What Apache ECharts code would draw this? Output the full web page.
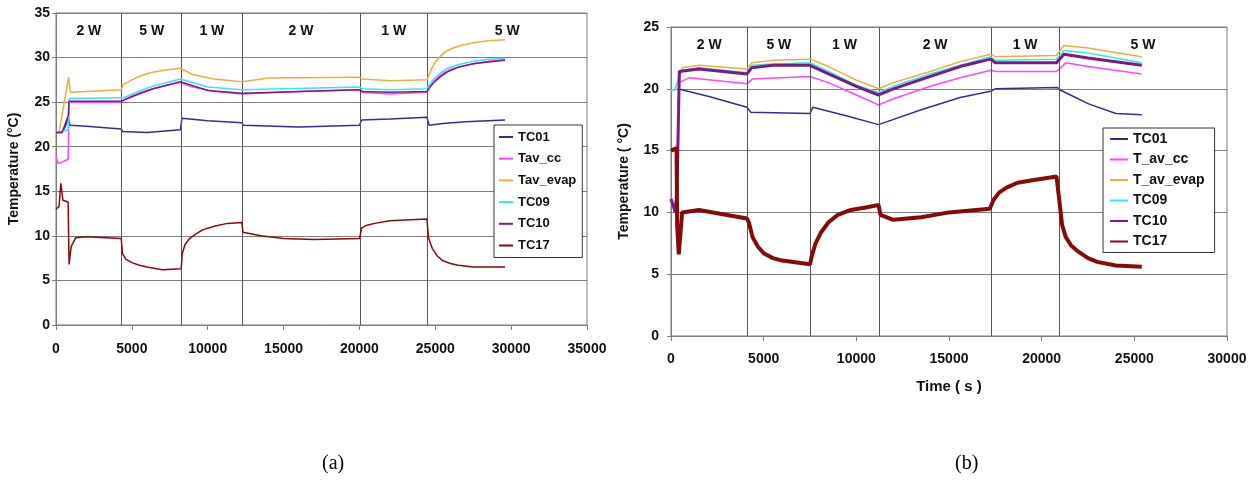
<!DOCTYPE html>
<html>
<head>
<meta charset="utf-8">
<script src="https://cdn.jsdelivr.net/npm/echarts@6/dist/echarts.min.js"></script>
<style>
html,body{margin:0;padding:0;background:#fff;}
#c{width:1257px;height:483px;}
</style>
</head>
<body>
<div id="c"></div>
<script>
// ---------- Chart (a) ----------
const aNames = ['TC01', 'Tav_cc', 'Tav_evap', 'TC09', 'TC10', 'TC17'];
const aTC01_t = [0, 380, 600, 810, 920, 2000, 4300, 4400, 6000, 8200, 8300, 10000, 12250, 12350, 16000, 20000, 20150, 22000, 24450, 24600, 25500, 27000, 29600];
const aTC01_v = [21.6, 21.6, 22.2, 23.2, 22.4, 22.3, 22.0, 21.7, 21.6, 21.9, 23.2, 22.9, 22.7, 22.4, 22.2, 22.4, 23.0, 23.1, 23.3, 22.4, 22.6, 22.8, 23.0];
const aTavcc_t = [0, 150, 800, 860, 2000, 4300, 4500, 5000, 5600, 6400, 7300, 8200, 9000, 10500, 12250, 12350, 16000, 20000, 20200, 22000, 24450, 24700, 25000, 25400, 25900, 26600, 27500, 28500, 29600];
const aTavcc_v = [18.9, 18.1, 18.6, 25.0, 25.0, 25.0, 25.3, 25.7, 26.1, 26.5, 26.9, 27.2, 26.7, 26.2, 25.9, 26.1, 26.2, 26.4, 26.1, 25.9, 26.1, 26.8, 27.5, 28.1, 28.6, 29.0, 29.3, 29.6, 29.8];
const aTavev_t = [0, 200, 830, 950, 2000, 4300, 4450, 5000, 5500, 6200, 7200, 8200, 9000, 10400, 12250, 12350, 14000, 20000, 20200, 22000, 24450, 24600, 24800, 25000, 25300, 25700, 26200, 26800, 27600, 28500, 29600];
const aTavev_v = [21.6, 21.6, 27.8, 26.1, 26.2, 26.4, 27.0, 27.5, 27.9, 28.3, 28.6, 28.8, 28.1, 27.6, 27.3, 27.5, 27.7, 27.8, 27.6, 27.4, 27.5, 28.1, 28.9, 29.5, 30.1, 30.7, 31.1, 31.4, 31.7, 31.9, 32.0];
const aTC09_t = [0, 800, 870, 4300, 4450, 5000, 5600, 6400, 7300, 8200, 10000, 12250, 12350, 20000, 20200, 22000, 24450, 24600, 24900, 25300, 25800, 26500, 27500, 28500, 29600];
const aTC09_v = [21.6, 21.9, 25.4, 25.5, 25.5, 25.9, 26.3, 26.8, 27.2, 27.6, 26.7, 26.4, 26.6, 26.7, 26.5, 26.4, 26.5, 26.9, 27.6, 28.2, 28.8, 29.2, 29.6, 29.8, 29.9];
const aTC10_t = [0, 400, 810, 860, 4300, 4450, 5000, 5600, 6400, 7300, 8200, 10000, 12250, 12350, 20000, 20200, 22000, 24450, 24600, 24900, 25300, 25800, 26500, 27500, 28500, 29600];
const aTC10_v = [21.6, 21.6, 23.5, 25.1, 25.1, 25.2, 25.6, 26.0, 26.5, 26.9, 27.3, 26.3, 26.0, 26.2, 26.4, 26.2, 26.1, 26.2, 26.6, 27.2, 27.8, 28.4, 28.9, 29.3, 29.5, 29.7];
const aTC17_t = [0, 200, 320, 450, 800, 860, 1000, 1300, 2000, 4300, 4380, 4600, 5000, 5500, 6000, 7000, 8250, 8320, 8500, 8800, 9200, 9700, 10500, 11300, 12250, 12320, 13500, 15000, 17000, 20000, 20150, 20500, 21000, 22000, 24450, 24550, 24800, 25100, 25500, 26000, 26500, 27500, 29600];
const aTC17_v = [13.0, 13.3, 15.9, 14.0, 13.8, 6.8, 8.8, 9.8, 9.9, 9.7, 8.0, 7.4, 7.0, 6.7, 6.5, 6.2, 6.3, 8.0, 9.0, 9.7, 10.2, 10.7, 11.1, 11.4, 11.5, 10.4, 10.0, 9.7, 9.6, 9.7, 10.9, 11.2, 11.4, 11.7, 11.9, 9.8, 8.6, 7.8, 7.2, 6.9, 6.7, 6.5, 6.5];
const aBounds = [0, 4330, 8280, 12270, 20030, 24490, 35000];
const aPowers = ['2 W', '5 W', '1 W', '2 W', '1 W', '5 W'];
const aXTicks = [0, 35000, 5000];
const aYTicks = [0, 35, 5];

// ---------- Chart (b) ----------
const bNames = ['TC01', 'T_av_cc', 'T_av_evap', 'TC09', 'TC10', 'TC17'];
const bTC01_t = [350, 2000, 4100, 4300, 7500, 7650, 9500, 11200, 13500, 15600, 17250, 17500, 20850, 21000, 22500, 24000, 25400];
const bTC01_v = [20.0, 19.4, 18.5, 18.1, 18.0, 18.5, 17.8, 17.1, 18.3, 19.3, 19.8, 20.0, 20.1, 19.9, 18.8, 18.0, 17.9];
const bTavcc_t = [300, 420, 1000, 4100, 4400, 7500, 8500, 10000, 11200, 12000, 14000, 15600, 17250, 17500, 20800, 21300, 22500, 25400];
const bTavcc_v = [12.0, 20.5, 20.9, 20.4, 20.8, 21.0, 20.5, 19.5, 18.7, 19.2, 20.2, 20.9, 21.5, 21.4, 21.4, 22.1, 21.8, 21.2];
const bTavev_t = [0, 200, 600, 1500, 4100, 4350, 5500, 7500, 8500, 10000, 11200, 12000, 14000, 15600, 17250, 17500, 20800, 21200, 22500, 25400];
const bTavev_v = [19.9, 19.9, 21.7, 21.9, 21.6, 22.1, 22.3, 22.4, 21.8, 20.7, 20.0, 20.5, 21.4, 22.2, 22.8, 22.6, 22.7, 23.5, 23.3, 22.6];
const bTC09_t = [0, 200, 600, 1500, 4100, 4350, 5500, 7500, 8500, 10000, 11200, 12000, 14000, 15600, 17250, 17500, 20800, 21200, 22500, 25400];
const bTC09_v = [19.9, 19.9, 21.5, 21.7, 21.3, 21.9, 22.0, 22.1, 21.4, 20.3, 19.7, 20.2, 21.2, 21.9, 22.6, 22.3, 22.4, 23.1, 22.9, 22.1];
const bTC10_t = [0, 230, 330, 450, 1500, 4100, 4350, 5500, 7500, 8500, 10000, 11200, 12000, 14000, 15600, 17250, 17500, 20800, 21200, 22500, 25400];
const bTC10_v = [11.1, 10.0, 12.0, 21.4, 21.6, 21.2, 21.7, 21.9, 21.9, 21.2, 20.2, 19.5, 20.0, 21.0, 21.8, 22.4, 22.1, 22.1, 22.8, 22.5, 21.9];
const bTC17_t = [0, 300, 330, 420, 600, 1500, 4100, 4200, 4400, 4700, 5000, 5500, 6000, 7500, 7600, 7800, 8100, 8500, 9000, 9700, 10500, 11200, 11300, 12000, 13500, 15000, 17200, 17400, 17700, 18100, 18700, 19500, 20800, 20950, 21100, 21300, 21600, 22000, 22500, 23000, 24000, 25400];
const bTC17_v = [15.0, 15.2, 9.0, 6.6, 10.0, 10.2, 9.5, 9.2, 8.0, 7.2, 6.7, 6.3, 6.1, 5.8, 6.5, 7.5, 8.4, 9.2, 9.8, 10.2, 10.4, 10.6, 9.8, 9.4, 9.6, 10.0, 10.3, 11.0, 11.6, 12.0, 12.4, 12.6, 12.9, 11.0, 9.0, 8.0, 7.3, 6.8, 6.3, 6.0, 5.7, 5.6];
const bBounds = [0, 4130, 7510, 11220, 17280, 20930, 30000];
const bPowers = ['2 W', '5 W', '1 W', '2 W', '1 W', '5 W'];
const bXTicks = [0, 30000, 5000];
const bYTicks = [0, 25, 5];

const captions = ['(a)', '(b)'];

// ---------- styles ----------
const colors = ['#2f2f8f', '#ff44ff', '#eaae3c', '#33e6f2', '#7a1a82', '#850a0a'];
const FONT = '"Liberation Sans", Arial, sans-serif';
const gridCol = '#7d7d7d';

function pairs(t, v) { return t.map((x, i) => [x, v[i]]); }

const aData = [pairs(aTC01_t, aTC01_v), pairs(aTavcc_t, aTavcc_v), pairs(aTavev_t, aTavev_v), pairs(aTC09_t, aTC09_v), pairs(aTC10_t, aTC10_v), pairs(aTC17_t, aTC17_v)];
const bData = [pairs(bTC01_t, bTC01_v), pairs(bTavcc_t, bTavcc_v), pairs(bTavev_t, bTavev_v), pairs(bTC09_t, bTC09_v), pairs(bTC10_t, bTC10_v), pairs(bTC17_t, bTC17_v)];
const aWidths = [1.5, 1.5, 1.5, 1.5, 1.5, 1.5];
const bWidths = [1.5, 1.5, 1.5, 1.5, 3, 4];

function lineSeries(names, data, widths, idx) {
  return names.map((n, i) => ({
    name: n, type: 'line', xAxisIndex: idx, yAxisIndex: idx,
    data: data[i], showSymbol: false, symbol: 'none',
    lineStyle: { color: colors[i], width: widths[i] },
    itemStyle: { color: colors[i] },
    z: 3 + i, animation: false
  }));
}

function markSeries(bounds, powers, idx) {
  const inner = bounds.slice(1, -1);
  return {
    type: 'line', xAxisIndex: idx, yAxisIndex: idx, data: [], silent: true,
    markLine: {
      symbol: ['none', 'none'], silent: true, animation: false,
      label: { show: false },
      lineStyle: { color: '#555', type: 'solid', width: 1 },
      data: inner.map(x => ({ xAxis: x }))
    },
    markArea: {
      silent: true, animation: false,
      itemStyle: { color: 'rgba(0,0,0,0)' },
      label: { show: true, position: 'insideTop', distance: 11, fontFamily: FONT, fontWeight: 'bold', fontSize: 14, color: '#111' },
      data: powers.map((p, i) => [{ xAxis: bounds[i], name: p }, { xAxis: bounds[i + 1] }])
    }
  };
}

function xAxis(idx, ticks, name, labelSize, margin) {
  return {
    type: 'value', gridIndex: idx, min: ticks[0], max: ticks[1], interval: ticks[2],
    name: name, nameLocation: 'middle', nameGap: 43,
    nameTextStyle: { fontFamily: FONT, fontWeight: 'bold', fontSize: 15, color: '#111' },
    axisLine: { show: true, lineStyle: { color: gridCol } },
    axisTick: { show: true, length: 5, lineStyle: { color: gridCol } },
    axisLabel: { fontFamily: FONT, fontWeight: 'bold', fontSize: labelSize, color: '#111', margin: margin, formatter: v => String(v) },
    splitLine: { show: false }
  };
}
function yAxis(idx, ticks, name, gap, labelSize, margin) {
  return {
    type: 'value', gridIndex: idx, min: ticks[0], max: ticks[1], interval: ticks[2],
    name: name, nameLocation: 'middle', nameGap: gap, nameRotate: 90,
    nameTextStyle: { fontFamily: FONT, fontWeight: 'bold', fontSize: 14, color: '#111' },
    axisLine: { show: true, lineStyle: { color: gridCol } },
    axisTick: { show: true, length: 4, lineStyle: { color: gridCol } },
    axisLabel: { fontFamily: FONT, fontWeight: 'bold', fontSize: labelSize, color: '#111', margin: margin, formatter: v => String(v) },
    splitLine: { show: true, lineStyle: { color: gridCol, width: 1 } }
  };
}
function legend(names, left, top, pad, iconW, fs, gap) {
  return {
    data: names, orient: 'vertical', left: left, top: top, padding: pad,
    itemWidth: iconW, itemHeight: 2, itemGap: gap, icon: 'rect',
    backgroundColor: '#fff', borderColor: '#333', borderWidth: 1,
    textStyle: { fontFamily: FONT, fontWeight: 'bold', fontSize: fs, lineHeight: 14, color: '#111' },
    selectedMode: false
  };
}

const chart = echarts.init(document.getElementById('c'), null, { renderer: 'canvas' });
chart.setOption({
  animation: false,
  backgroundColor: '#fff',
  grid: [
    { left: 56, right: 1257 - 587, top: 13, bottom: 483 - 325, show: true, borderColor: gridCol, borderWidth: 1, backgroundColor: '#fff' },
    { left: 671, right: 1257 - 1227, top: 27, bottom: 483 - 336, show: true, borderColor: gridCol, borderWidth: 1, backgroundColor: '#fff' }
  ],
  xAxis: [xAxis(0, aXTicks, '', 14, 17), xAxis(1, bXTicks, 'Time ( s )', 14, 16)],
  yAxis: [yAxis(0, aYTicks, 'Temperature (°C)', 35, 14, 6), yAxis(1, bYTicks, 'Temperature ( °C)', 40, 14, 12)],
  legend: [
    legend(aNames, 494, 125, [5, 6, 5, 5], 14, 13, 7.7),
    legend(bNames, 1103, 128, [4, 10, 4, 7], 18, 14, 6.5)
  ],
  graphic: [
    { type: 'text', left: 322, top: 454, style: { text: captions[0], font: '20px "Liberation Serif", "Times New Roman", serif', fill: '#000' } },
    { type: 'text', left: 955, top: 454, style: { text: captions[1], font: '20px "Liberation Serif", "Times New Roman", serif', fill: '#000' } }
  ],
  series: [
    markSeries(aBounds, aPowers, 0),
    markSeries(bBounds, bPowers, 1),
    ...lineSeries(aNames, aData, aWidths, 0),
    ...lineSeries(bNames, bData, bWidths, 1)
  ]
});
</script>
</body>
</html>
